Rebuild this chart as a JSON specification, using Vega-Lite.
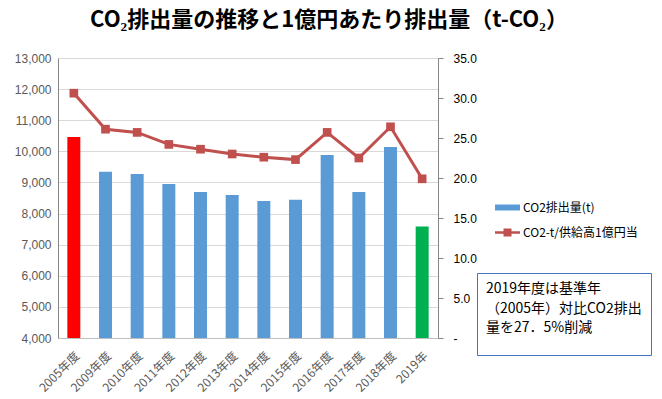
{
  "$schema": "https://vega.github.io/schema/vega-lite/v6.json",
  "autosize": {"type": "none"},
  "width": 380,
  "height": 280,
  "padding": {"left": 58, "top": 58, "right": 224, "bottom": 61},
  "background": "white",
  "title": {
    "text": "CO₂排出量の推移と1億円あたり排出量（t-CO₂）",
    "font": "Noto Sans CJK JP",
    "fontSize": 22,
    "fontWeight": "bold",
    "color": "#000000",
    "anchor": "middle",
    "dx": 81,
    "offset": 20
  },
  "config": {
    "font": "Noto Sans CJK JP",
    "view": {"stroke": null}
  },
  "data": {
    "values": [
      {"year": "2005年度", "emissions": 10460, "per_oku": 30.6},
      {"year": "2009年度", "emissions": 9340, "per_oku": 26.1},
      {"year": "2010年度", "emissions": 9270, "per_oku": 25.7},
      {"year": "2011年度", "emissions": 8950, "per_oku": 24.2},
      {"year": "2012年度", "emissions": 8690, "per_oku": 23.6},
      {"year": "2013年度", "emissions": 8600, "per_oku": 23.0},
      {"year": "2014年度", "emissions": 8400, "per_oku": 22.6},
      {"year": "2015年度", "emissions": 8440, "per_oku": 22.3},
      {"year": "2016年度", "emissions": 9880, "per_oku": 25.7},
      {"year": "2017年度", "emissions": 8690, "per_oku": 22.5},
      {"year": "2018年度", "emissions": 10140, "per_oku": 26.4},
      {"year": "2019年", "emissions": 7585, "per_oku": 19.9}
    ]
  },
  "encoding": {
    "x": {
      "field": "year",
      "type": "nominal",
      "sort": null,
      "scale": {"paddingInner": 0.59, "paddingOuter": 0.295},
      "axis": {
        "title": null,
        "labelAngle": -45,
        "labelColor": "#595959",
        "labelFontSize": 12,
        "labelPadding": 12,
        "ticks": false,
        "domainColor": "#BFBFBF",
        "grid": false
      }
    }
  },
  "layer": [
    {
      "mark": {"type": "bar", "clip": true},
      "encoding": {
        "y": {
          "field": "emissions",
          "type": "quantitative",
          "scale": {"domain": [4000, 13000], "nice": false, "zero": false},
          "axis": {
            "orient": "left",
            "title": null,
            "values": [4000, 5000, 6000, 7000, 8000, 9000, 10000, 11000, 12000, 13000],
            "format": ",.0f",
            "labelFont": "Liberation Sans",
            "labelFontSize": 12,
            "labelColor": "#595959",
            "labelPadding": 7,
            "ticks": false,
            "domainColor": "#868686",
            "gridColor": "#D9D9D9"
          }
        },
        "y2": {"datum": 4000},
        "color": {
          "datum": "CO2排出量(t)",
          "condition": [
            {"test": "datum.year === '2005年度'", "value": "#FF0000"},
            {"test": "datum.year === '2019年'", "value": "#00B050"}
          ],
          "scale": {
            "domain": ["CO2排出量(t)", "CO2-t/供給高1億円当"],
            "range": ["#5B9BD5", "#C0504D"]
          },
          "legend": {
            "orient": "none",
            "legendX": 437,
            "legendY": 137,
            "title": null,
            "padding": 0,
            "labelFontSize": 12,
            "labelColor": "#000000",
            "labelOffset": 3,
            "symbolSize": 625,
            "rowPadding": 6,
            "encode": {
              "symbols": {
                "update": {
                  "shape": {"signal": "datum.value === 'CO2排出量(t)' ? 'M-1,-0.24H1V0.24H-1Z' : 'M-1,-0.1H1V0.1H-1Z M-0.32,-0.32H0.32V0.32H-0.32Z'"},
                  "fill": {"signal": "datum.value === 'CO2排出量(t)' ? '#5B9BD5' : '#C0504D'"},
                  "stroke": {"value": "transparent"},
                  "strokeWidth": {"value": 0},
                  "opacity": {"value": 1}
                }
              }
            }
          }
        },
        "strokeDash": {
          "datum": "note",
          "legend": {
            "orient": "none",
            "legendX": 419,
            "legendY": 215,
            "padding": 9,
            "strokeColor": "#4472C4",
            "fillColor": "#FFFFFF",
            "title": ["2019年度は基準年", "（2005年）対比CO2排出", "量を27．5%削減"],
            "titleFontSize": 14,
            "titleFontWeight": "normal",
            "titleColor": "#000000",
            "titleLineHeight": 19.5,
            "titleLimit": 400,
            "titlePadding": 1,
            "labelExpr": "''",
            "symbolOpacity": 0,
            "symbolStrokeWidth": 0,
            "symbolSize": 4
          }
        }
      }
    },
    {
      "mark": {
        "type": "line",
        "strokeWidth": 3,
        "point": {"shape": "square", "size": 75, "filled": true}
      },
      "encoding": {
        "y": {
          "field": "per_oku",
          "type": "quantitative",
          "scale": {"domain": [0, 35], "nice": false},
          "axis": {
            "orient": "right",
            "title": null,
            "values": [0, 5, 10, 15, 20, 25, 30, 35],
            "labelExpr": "datum.value === 0 ? '-' : format(datum.value, '.1f')",
            "labelFont": "Liberation Sans",
            "labelFontSize": 12,
            "labelColor": "#000000",
            "labelPadding": 10,
            "ticks": true,
            "tickSize": 5,
            "tickColor": "#868686",
            "domainColor": "#868686",
            "grid": false
          }
        },
        "color": {"datum": "CO2-t/供給高1億円当"}
      }
    }
  ],
  "resolve": {"scale": {"y": "independent"}}
}
